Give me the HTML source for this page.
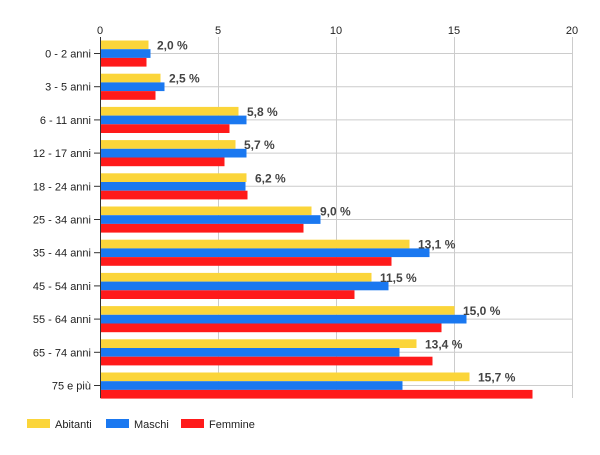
<!DOCTYPE html>
<html><head><meta charset="utf-8"><style>
body{margin:0;background:#fff;}
svg text{font-family:"Liberation Sans",Arial,sans-serif;font-size:11px;fill:#222;}
</style></head><body>
<svg width="600" height="450" xmlns="http://www.w3.org/2000/svg">
<g stroke="#ccc" stroke-width="1">
<line x1="218.5" y1="37" x2="218.5" y2="398"/>
<line x1="336.5" y1="37" x2="336.5" y2="398"/>
<line x1="454.5" y1="37" x2="454.5" y2="398"/>
<line x1="572.5" y1="37" x2="572.5" y2="398"/>
</g>
<g id="h" stroke="#ccc"></g>
<g id="bars"></g>
<line x1="100.5" y1="37" x2="100.5" y2="398" stroke="#333"/>
<g text-anchor="middle">
<text x="100" y="34">0</text><text x="218" y="34">5</text><text x="336" y="34">10</text><text x="454" y="34">15</text><text x="572" y="34">20</text>
</g>
<g id="labs"></g>
<rect x="27" y="419" width="23" height="9" fill="#fbd53a"/><text x="55" y="428">Abitanti</text>
<rect x="106" y="419" width="23" height="9" fill="#1a78f0"/><text x="134" y="428">Maschi</text>
<rect x="181" y="419" width="23" height="9" fill="#ff1a1a"/><text x="209" y="428">Femmine</text>
<script>
var cats=["0 - 2 anni","3 - 5 anni","6 - 11 anni","12 - 17 anni","18 - 24 anni","25 - 34 anni","35 - 44 anni","45 - 54 anni","55 - 64 anni","65 - 74 anni","75 e più"];
var y=[148,160,238,235,246,311,409,371,454,416,469];
var b=[150,164,246,246,245,320,429,388,466,399,402];
var r=[146,155,229,224,247,303,391,354,441,432,532];
var v=["2,0 %","2,5 %","5,8 %","5,7 %","6,2 %","9,0 %","13,1 %","11,5 %","15,0 %","13,4 %","15,7 %"];
var ns="http://www.w3.org/2000/svg",s="";
function el(t,a,p,txt){var e=document.createElementNS(ns,t);for(var k in a)e.setAttribute(k,a[k]);if(txt)e.textContent=txt;document.getElementById(p).appendChild(e);}
for(var i=0;i<11;i++){
 var c=53.5+i*33.2;
 el("line",{x1:100,x2:572,y1:c,y2:c},"h");
 var t=c-13;
 el("rect",{x:100.5,y:t,width:y[i]-100,height:8.7,fill:"#fbd53a"},"bars");
 el("rect",{x:100.5,y:t+8.7,width:b[i]-100,height:8.7,fill:"#1a78f0"},"bars");
 el("rect",{x:100.5,y:t+17.4,width:r[i]-100,height:8.7,fill:"#ff1a1a"},"bars");
 el("line",{x1:94,x2:100,y1:c,y2:c,stroke:"#333"},"labs");
 el("text",{x:91,y:c+4,"text-anchor":"end"},"labs",cats[i]);
 el("text",{x:y[i]+9,y:t+9,style:"font-weight:bold;font-size:12px;fill:#444"},"labs",v[i]);
}
</script>
</svg>
</body></html>
